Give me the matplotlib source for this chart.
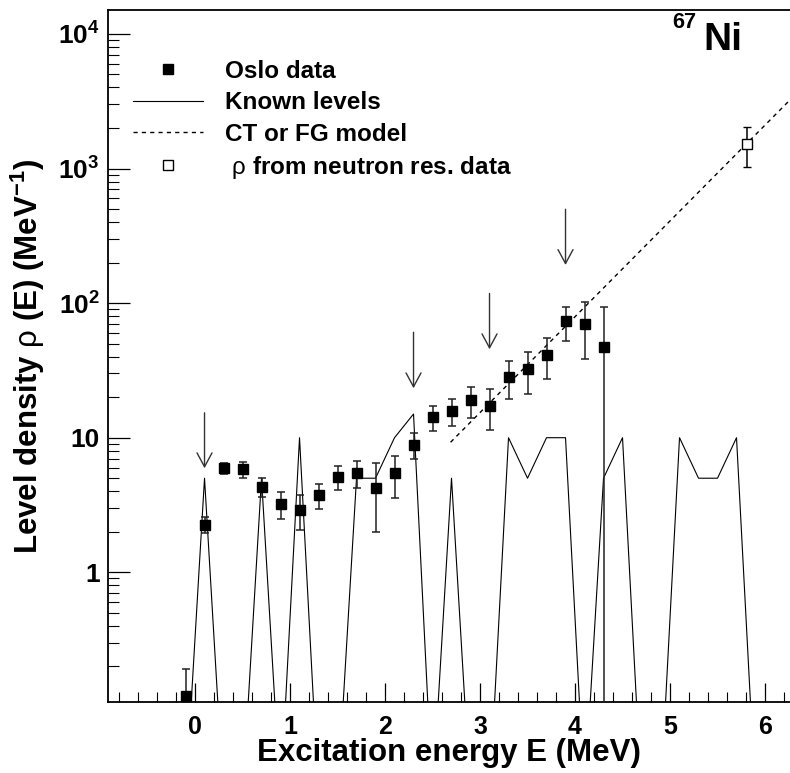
import numpy as np
import matplotlib
matplotlib.use("Agg")
import matplotlib.pyplot as plt
from matplotlib.lines import Line2D
from matplotlib.ticker import FixedLocator, NullFormatter, LogLocator, FixedFormatter

plt.rcParams['font.family'] = ['Liberation Sans', 'DejaVu Sans']
plt.rcParams['mathtext.fontset'] = 'custom'
plt.rcParams['mathtext.rm'] = 'Liberation Sans'
plt.rcParams['mathtext.bf'] = 'Liberation Sans:bold'
plt.rcParams['mathtext.it'] = 'Liberation Sans:italic'

# ---------------- data ----------------
E_oslo = [-0.1, 0.1, 0.3, 0.5, 0.7, 0.9, 1.1, 1.3, 1.5, 1.7, 1.9, 2.1, 2.3,
          2.5, 2.7, 2.9, 3.1, 3.3, 3.5, 3.7, 3.9, 4.1, 4.3]
rho_oslo = [0.12, 2.26, 5.96, 5.82, 4.30, 3.20, 2.89, 3.75, 5.11, 5.44, 4.23,
            5.47, 8.87, 14.3, 15.8, 19.0, 17.3, 28.4, 32.2, 41.4, 73.3, 70.3, 46.9]
err_oslo = [0.07, 0.30, 0.57, 0.80, 0.70, 0.72, 0.84, 0.80, 1.0, 1.24, 2.25,
            1.9, 1.9, 3.0, 3.5, 5.0, 5.8, 8.9, 11.2, 14.1, 21.0, 32.0, 46.9]

E_levels = [-0.1, 0.1, 0.3, 0.5, 0.7, 0.9, 1.1, 1.3, 1.5, 1.7, 1.9, 2.1, 2.3,
            2.5, 2.7, 2.9, 3.1, 3.3, 3.5, 3.7, 3.9, 4.1, 4.3, 4.5, 4.7, 4.9,
            5.1, 5.3, 5.5, 5.7, 5.9]
rho_levels = [0, 5, 0, 0, 5, 0, 10, 0, 0, 5, 5, 10, 15,
              0, 5, 0, 0, 10, 5, 10, 10, 0, 5, 10, 0, 0,
              10, 5, 5, 10, 0]

E_ct = [2.69, 6.3]
rho_ct = [9.25, 3436.0]

E_neutron = [5.81]
rho_neutron = [1520.0]
err_neutron = [500.0]

arrow_E = [0.1, 2.3, 3.1, 3.9]
arrow_tip = [5.93, 23.3, 45.4, 192.0]
arrow_top = [15.3, 60.7, 118.0, 498.0]

xtick_vals = [0, 1, 2, 3, 4, 5, 6]
ytick_vals = [1, 10, 100, 1000, 10000]
ytick_labels = ['1', '10', r'$\mathbf{10^{2}}$', r'$\mathbf{10^{3}}$', r'$\mathbf{10^{4}}$']

# ---------------- figure ----------------
W, H = 790, 773
fig = plt.figure(figsize=(W / 100, H / 100), dpi=100)
ax = fig.add_axes([108 / W, 1 - 702 / H, 1 - 108 / W, (702 - 10) / H])
ax.set_yscale('log')
ax.set_xlim(-0.916, 6.263)
ax.set_ylim(0.1087, 15060)

floor = 0.021  # drawing level for bins with no known levels (below the axis)
lev = np.array(rho_levels, dtype=float)
ax.plot(E_levels, np.where(lev > 0, lev, floor), color='black', lw=0.8, zorder=2)

ax.plot(E_ct, rho_ct, color='black', lw=1.0, ls=(0, (3, 3)), zorder=2)

ax.errorbar(E_oslo, rho_oslo, yerr=err_oslo, fmt='s', ms=6.5, color='black',
            ecolor='#222222', elinewidth=1.1, capsize=2.6, capthick=1.1, zorder=3)

ax.errorbar(E_neutron, rho_neutron, yerr=err_neutron, fmt='s', ms=7.2,
            mfc='white', mec='black', mew=1.0, ecolor='black', elinewidth=1.1,
            capsize=3, capthick=1.1, zorder=3)

for e, tip, top in zip(arrow_E, arrow_tip, arrow_top):
    ax.annotate('', xy=(e, tip), xytext=(e, top),
                arrowprops=dict(arrowstyle='->,head_length=0.5,head_width=0.27',
                                mutation_scale=20, color='#333333', lw=1.0,
                                shrinkA=0, shrinkB=0))

# ticks
ax.xaxis.set_major_locator(FixedLocator(xtick_vals))
ax.xaxis.set_minor_locator(FixedLocator(np.round(np.arange(-0.8, 6.3, 0.2), 2)))
ax.yaxis.set_major_locator(FixedLocator(ytick_vals))
ax.yaxis.set_major_formatter(FixedFormatter(ytick_labels))
ax.yaxis.set_minor_locator(LogLocator(base=10, subs=np.arange(2, 10), numticks=20))
ax.yaxis.set_minor_formatter(NullFormatter())
ax.tick_params(axis='x', which='major', direction='in', length=13.7, width=0.9,
               labelsize=18, pad=9, top=False)
ax.tick_params(axis='x', which='minor', direction='in', length=7.2, width=0.8, top=False)
ax.tick_params(axis='y', which='major', direction='in', length=15.8, width=0.9,
               labelsize=19, pad=6, right=False)
ax.tick_params(axis='y', which='minor', direction='in', length=8, width=0.8, right=False)
for lab in ax.get_xticklabels() + ax.get_yticklabels():
    lab.set_fontweight('bold')

for s in ['left', 'bottom', 'top']:
    ax.spines[s].set_linewidth(1.3)
ax.spines['right'].set_visible(False)

ax.set_xlabel('Excitation energy E (MeV)', fontsize=22.5, fontweight='bold')
ax.xaxis.set_label_coords(0.5, -0.052)
ax.set_ylabel(r'Level density $\mathrm{\rho}$ (E) (MeV$^{\mathbf{-1}}$)',
              fontsize=22.5, fontweight='bold')
ax.yaxis.set_label_coords(-0.0894, 0.5)

# legend
handles = [
    Line2D([], [], marker='s', ls='none', color='black', ms=6.5),
    Line2D([], [], color='black', lw=0.8),
    Line2D([], [], color='black', lw=1.0, ls=(0, (3, 3))),
    Line2D([], [], marker='s', ls='none', mfc='white', mec='black', mew=1.0, ms=7),
]
labels = ['Oslo data', 'Known levels', 'CT or FG model',
          r' $\mathrm{\rho}$ from neutron res. data']
fig.legend(handles, labels, loc='upper left', bbox_to_anchor=(133 / W, 1 - 60 / H),
           bbox_transform=fig.transFigure, frameon=False, borderpad=0,
           borderaxespad=0, handlelength=2.88, handletextpad=0.9,
           labelspacing=0.34, prop={'size': 17.5, 'weight': 'bold'})

fig.text(672 / W, 1 - 28 / H, '67', fontsize=15.7, fontweight='bold', va='baseline', ha='left')
fig.text(703 / W, 1 - 50 / H, 'Ni', fontsize=28, fontweight='bold', va='baseline', ha='left')

fig.savefig('out.png', dpi=100)
